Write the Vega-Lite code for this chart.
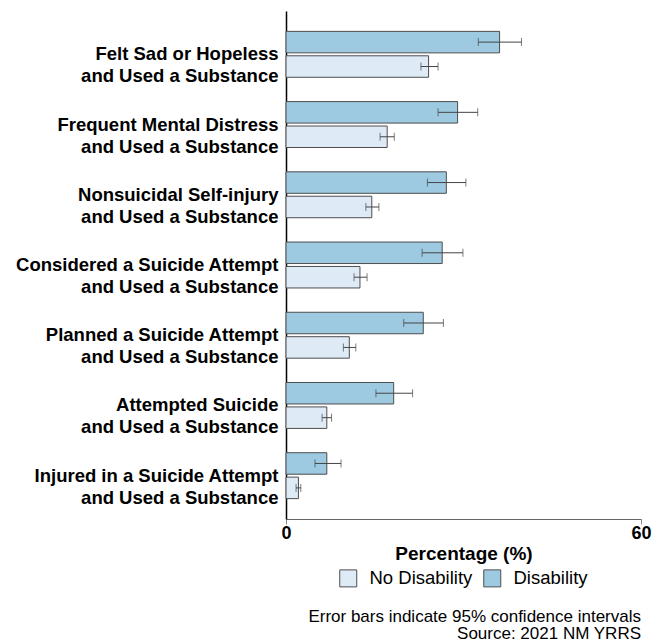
{
  "$schema": "https://vega.github.io/schema/vega-lite/v6.json",
  "width": 355,
  "height": 508,
  "padding": {"top": 11, "left": 14, "right": 12, "bottom": 5},
  "background": "white",
  "config": {
    "font": "Liberation Sans",
    "view": {"stroke": null},
    "legend": {"layout": {"bottom": {"anchor": "middle"}}}
  },
  "title": {
    "text": ["Error bars indicate 95% confidence intervals", "Source: 2021 NM YRRS"],
    "orient": "bottom",
    "anchor": "end",
    "frame": "group",
    "fontSize": 17,
    "fontWeight": "normal",
    "color": "#000000",
    "offset": 20,
    "lineHeight": 17
  },
  "data": {
    "values": [
      {"category": "Felt Sad or Hopeless|and Used a Substance", "group": "Disability", "value": 36.1, "lo": 32.5, "hi": 39.8},
      {"category": "Felt Sad or Hopeless|and Used a Substance", "group": "No Disability", "value": 24.1, "lo": 22.8, "hi": 25.7},
      {"category": "Frequent Mental Distress|and Used a Substance", "group": "Disability", "value": 29.0, "lo": 25.7, "hi": 32.4},
      {"category": "Frequent Mental Distress|and Used a Substance", "group": "No Disability", "value": 17.1, "lo": 15.9, "hi": 18.3},
      {"category": "Nonsuicidal Self-injury|and Used a Substance", "group": "Disability", "value": 27.1, "lo": 23.9, "hi": 30.4},
      {"category": "Nonsuicidal Self-injury|and Used a Substance", "group": "No Disability", "value": 14.5, "lo": 13.5, "hi": 15.7},
      {"category": "Considered a Suicide Attempt|and Used a Substance", "group": "Disability", "value": 26.4, "lo": 23.0, "hi": 29.9},
      {"category": "Considered a Suicide Attempt|and Used a Substance", "group": "No Disability", "value": 12.5, "lo": 11.5, "hi": 13.7},
      {"category": "Planned a Suicide Attempt|and Used a Substance", "group": "Disability", "value": 23.2, "lo": 19.9, "hi": 26.6},
      {"category": "Planned a Suicide Attempt|and Used a Substance", "group": "No Disability", "value": 10.7, "lo": 9.7, "hi": 11.8},
      {"category": "Attempted Suicide|and Used a Substance", "group": "Disability", "value": 18.2, "lo": 15.2, "hi": 21.4},
      {"category": "Attempted Suicide|and Used a Substance", "group": "No Disability", "value": 6.9, "lo": 6.1, "hi": 7.7},
      {"category": "Injured in a Suicide Attempt|and Used a Substance", "group": "Disability", "value": 6.9, "lo": 4.9, "hi": 9.3},
      {"category": "Injured in a Suicide Attempt|and Used a Substance", "group": "No Disability", "value": 2.1, "lo": 1.7, "hi": 2.5}
    ]
  },
  "encoding": {
    "y": {
      "field": "category",
      "type": "nominal",
      "sort": null,
      "scale": {"paddingInner": 0.346, "paddingOuter": 0.29},
      "axis": {
        "title": null,
        "ticks": false,
        "labelExpr": "split(datum.label, '|')",
        "labelFontSize": 18.5,
        "labelFontWeight": "bold",
        "labelColor": "#000000",
        "labelPadding": 8,
        "labelLimit": 0,
        "labelLineHeight": 22,
        "domainColor": "#000000",
        "domainWidth": 1.5
      }
    },
    "yOffset": {
      "field": "group",
      "type": "nominal",
      "sort": ["Disability", "No Disability"],
      "scale": {"paddingInner": 0.12, "paddingOuter": 0}
    }
  },
  "layer": [
    {
      "mark": {"type": "bar", "stroke": "#4d4d4d", "strokeWidth": 1},
      "encoding": {
        "x": {
          "field": "value",
          "type": "quantitative",
          "scale": {"domain": [0, 60], "nice": false},
          "axis": {
            "values": [0, 60],
            "grid": false,
            "title": "Percentage (%)",
            "titleFontSize": 19,
            "titleFontWeight": "bold",
            "titleColor": "#000000",
            "titlePadding": 2,
            "labelFontSize": 18,
            "labelFontWeight": "bold",
            "labelColor": "#000000",
            "labelFlush": false,
            "labelPadding": 0,
            "tickColor": "#888888",
            "tickSize": 5,
            "domainColor": "#666666",
            "domainWidth": 1
          }
        },
        "color": {
          "field": "group",
          "type": "nominal",
          "scale": {"domain": ["No Disability", "Disability"], "range": ["#deebf7", "#9ecae1"]},
          "legend": {
            "title": null,
            "orient": "bottom",
            "direction": "horizontal",
            "symbolType": "square",
            "symbolSize": 289,
            "symbolStrokeColor": "#4d4d4d",
            "symbolStrokeWidth": 1,
            "labelFontSize": 18.5,
            "labelColor": "#000000",
            "labelOffset": 12,
            "columnPadding": 8,
            "offset": 6
          }
        }
      }
    },
    {
      "mark": {"type": "rule", "color": "#444444", "strokeWidth": 1},
      "encoding": {
        "x": {"field": "lo", "type": "quantitative"},
        "x2": {"field": "hi"}
      }
    },
    {
      "mark": {"type": "tick", "color": "#444444", "thickness": 1, "size": 8, "orient": "vertical"},
      "encoding": {
        "x": {"field": "lo", "type": "quantitative"}
      }
    },
    {
      "mark": {"type": "tick", "color": "#444444", "thickness": 1, "size": 8, "orient": "vertical"},
      "encoding": {
        "x": {"field": "hi", "type": "quantitative"}
      }
    }
  ]
}
